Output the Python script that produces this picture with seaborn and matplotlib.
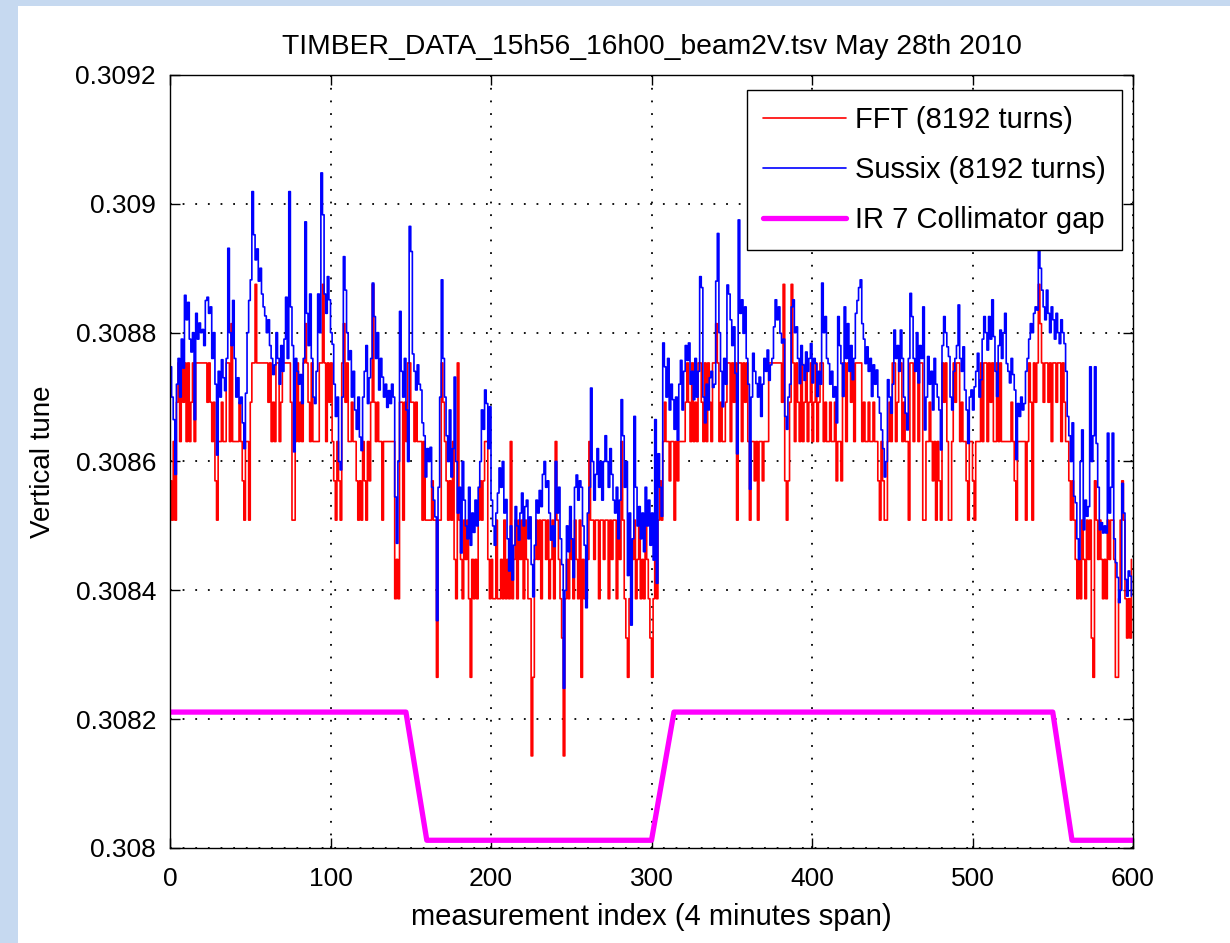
import numpy as np
import pandas as pd
import matplotlib
matplotlib.use("Agg")
import matplotlib.pyplot as plt
import seaborn as sns
from matplotlib.patches import Rectangle
from matplotlib.lines import Line2D

# ---------------- data (tune offsets in units of 1e-6 above 0.308) ----------------
sussix_off = [
    747, 700, 665, 580, 720, 760, 700, 790, 745, 858, 820, 847, 790, 770, 800, 665, 830, 790, 815, 800,
    805, 780, 850, 855, 830, 840, 760, 800, 720, 610, 740, 700, 758, 730, 710, 760, 931, 800, 780, 850,
    760, 700, 730, 690, 700, 660, 620, 706, 800, 850, 882, 1019, 952, 913, 930, 880, 900, 860, 840, 826,
    800, 820, 780, 760, 735, 750, 800, 760, 720, 780, 740, 790, 855, 760, 1019, 840, 780, 615, 760, 740,
    720, 735, 690, 760, 972, 830, 780, 860, 760, 700, 690, 740, 860, 800, 1048, 983, 860, 830, 887, 851,
    800, 782, 720, 670, 700, 600, 587, 700, 918, 866, 800, 758, 772, 700, 740, 680, 650, 700, 638, 617,
    700, 740, 780, 690, 730, 760, 877, 825, 760, 800, 711, 760, 731, 700, 720, 684, 710, 690, 720, 700,
    545, 473, 600, 833, 740, 700, 760, 680, 600, 965, 926, 767, 740, 711, 750, 720, 711, 660, 640, 576,
    620, 600, 622, 560, 540, 514, 353, 560, 700, 882, 760, 700, 640, 600, 680, 576, 620, 731, 600, 520,
    560, 458, 600, 540, 500, 480, 560, 470, 520, 490, 540, 500, 560, 600, 680, 650, 711, 690, 620, 685,
    540, 500, 470, 520, 551, 590, 560, 600, 520, 541, 480, 430, 500, 416, 470, 530, 500, 478, 520, 551,
    500, 530, 540, 480, 514, 440, 390, 470, 540, 520, 555, 530, 580, 600, 560, 570, 520, 478, 500, 468,
    600, 520, 560, 480, 440, 248, 400, 500, 460, 530, 480, 420, 560, 579, 540, 570, 560, 500, 470, 373,
    520, 560, 714, 600, 540, 580, 620, 560, 600, 540, 600, 640, 600, 560, 620, 580, 540, 520, 560, 480,
    540, 696, 640, 560, 600, 423, 520, 346, 480, 670, 560, 500, 530, 480, 520, 460, 560, 500, 540, 470,
    520, 447, 665, 411, 612, 560, 515, 784, 747, 700, 760, 680, 720, 696, 650, 700, 633, 720, 757, 680,
    740, 780, 757, 784, 720, 740, 696, 760, 700, 740, 887, 870, 700, 660, 720, 680, 730, 740, 715, 720,
    880, 954, 800, 740, 685, 760, 720, 874, 860, 820, 780, 809, 737, 612, 975, 830, 851, 799, 840, 760,
    720, 557, 700, 768, 740, 721, 700, 731, 670, 720, 760, 740, 773, 726, 750, 760, 809, 851, 820, 840,
    799, 784, 790, 670, 650, 700, 720, 840, 851, 800, 809, 760, 721, 780, 750, 726, 770, 740, 760, 783,
    722, 760, 752, 701, 740, 720, 877, 800, 825, 760, 752, 720, 740, 700, 716, 660, 825, 780, 752, 701,
    840, 760, 814, 740, 780, 727, 760, 830, 850, 870, 882, 814, 790, 752, 778, 740, 760, 701, 750, 720,
    742, 700, 675, 649, 620, 576, 600, 727, 700, 675, 720, 804, 760, 780, 740, 804, 760, 700, 675, 649,
    760, 861, 825, 760, 740, 800, 722, 780, 760, 840, 649, 700, 763, 720, 740, 680, 760, 720, 700, 680,
    618, 780, 825, 800, 778, 763, 700, 680, 740, 760, 780, 843, 760, 740, 778, 711, 680, 628, 700, 711,
    680, 716, 740, 768, 700, 727, 790, 825, 800, 773, 825, 790, 851, 794, 740, 701, 780, 804, 760, 800,
    830, 752, 740, 722, 760, 735, 711, 603, 690, 670, 700, 680, 690, 740, 760, 790, 814, 800, 830, 840,
    835, 939, 900, 866, 840, 820, 866, 830, 800, 840, 820, 790, 830, 800, 783, 820, 800, 783, 740, 670,
    640, 600, 660, 546, 536, 480, 448, 600, 649, 494, 540, 515, 530, 747, 600, 640, 747, 628, 560, 494,
    505, 489, 500, 489, 644, 520, 560, 644, 480, 443, 420, 381, 400, 566, 520, 417, 391, 430, 422, 391,
]

fft_off = [
    570, 509, 631, 509, 692, 753, 631, 753, 692, 753, 631, 753, 631, 692, 753, 631, 753, 753, 753, 753,
    753, 753, 753, 692, 753, 692, 631, 692, 570, 509, 631, 631, 692, 631, 631, 753, 753, 631, 814, 631,
    631, 631, 631, 692, 631, 570, 509, 631, 631, 509, 692, 753, 753, 875, 753, 753, 753, 753, 753, 753,
    753, 692, 753, 631, 692, 631, 753, 753, 631, 692, 753, 753, 753, 753, 753, 692, 509, 509, 631, 753,
    631, 692, 631, 753, 814, 753, 692, 631, 753, 631, 631, 631, 631, 753, 753, 875, 753, 631, 753, 692,
    753, 631, 570, 509, 631, 570, 509, 753, 814, 692, 753, 631, 631, 692, 631, 631, 570, 509, 570, 509,
    631, 570, 509, 631, 570, 692, 875, 692, 631, 692, 631, 631, 509, 631, 631, 631, 631, 631, 631, 631,
    387, 448, 387, 692, 692, 509, 692, 631, 753, 753, 692, 692, 631, 692, 631, 631, 631, 509, 631, 509,
    509, 509, 509, 570, 509, 509, 265, 509, 509, 753, 692, 631, 570, 509, 570, 509, 631, 448, 387, 753,
    509, 448, 387, 509, 448, 509, 387, 265, 448, 387, 448, 387, 509, 570, 509, 570, 631, 631, 448, 387,
    448, 387, 387, 509, 387, 387, 448, 387, 509, 387, 448, 387, 631, 387, 448, 509, 387, 509, 448, 509,
    387, 509, 448, 387, 387, 143, 265, 448, 509, 448, 509, 387, 509, 509, 448, 509, 387, 448, 509, 387,
    631, 509, 448, 387, 326, 143, 387, 448, 387, 509, 448, 387, 509, 448, 387, 509, 265, 448, 387, 387,
    448, 631, 509, 509, 448, 509, 509, 387, 509, 509, 448, 509, 509, 387, 509, 448, 509, 509, 387, 509,
    448, 631, 509, 387, 326, 265, 387, 387, 448, 509, 387, 448, 509, 387, 448, 387, 509, 448, 387, 326,
    265, 387, 448, 387, 509, 570, 509, 631, 692, 631, 631, 570, 631, 631, 509, 631, 570, 631, 631, 631,
    631, 692, 753, 692, 631, 753, 631, 692, 631, 753, 753, 692, 631, 753, 631, 753, 692, 631, 753, 753,
    814, 753, 631, 692, 631, 631, 692, 753, 753, 631, 753, 692, 753, 509, 753, 753, 631, 753, 692, 753,
    631, 509, 631, 631, 570, 631, 509, 631, 631, 570, 631, 631, 631, 753, 753, 753, 753, 753, 753, 753,
    753, 692, 875, 570, 509, 570, 692, 875, 753, 631, 753, 692, 631, 753, 631, 692, 753, 631, 692, 753,
    631, 692, 753, 631, 692, 753, 753, 631, 692, 631, 631, 692, 631, 631, 692, 570, 631, 631, 570, 753,
    753, 631, 753, 753, 692, 753, 631, 753, 753, 753, 753, 631, 692, 631, 631, 692, 631, 631, 692, 631,
    631, 570, 509, 631, 570, 509, 509, 631, 692, 631, 753, 753, 631, 692, 753, 753, 631, 692, 631, 631,
    509, 753, 753, 631, 753, 753, 631, 753, 753, 509, 509, 631, 631, 692, 631, 570, 631, 509, 631, 570,
    509, 753, 692, 753, 631, 509, 509, 631, 753, 692, 753, 753, 631, 692, 631, 631, 570, 509, 631, 631,
    570, 509, 631, 631, 631, 753, 631, 753, 753, 631, 753, 692, 753, 631, 631, 753, 631, 753, 631, 631,
    631, 631, 631, 631, 692, 631, 570, 509, 631, 631, 631, 631, 631, 509, 631, 753, 692, 509, 753, 692,
    753, 875, 814, 753, 692, 753, 753, 692, 753, 631, 753, 753, 692, 753, 753, 631, 753, 692, 631, 631,
    570, 509, 570, 509, 448, 387, 448, 387, 509, 448, 387, 509, 448, 509, 326, 265, 570, 509, 448, 509,
    448, 387, 448, 387, 509, 448, 509, 509, 448, 265, 265, 387, 509, 570, 509, 387, 326, 387, 326, 448,
]

gap_idx = [0, 147, 160, 300, 314, 550, 562, 600]
gap_off = [211, 211, 12, 12, 211, 211, 12, 12]

labels = ["FFT (8192 turns)", "Sussix (8192 turns)", "IR 7 Collimator gap"]
yticks = [0.308, 0.3082, 0.3084, 0.3086, 0.3088, 0.309, 0.3092]
yticklabels = ["0.308", "0.3082", "0.3084", "0.3086", "0.3088", "0.309", "0.3092"]
xticks = [0, 100, 200, 300, 400, 500, 600]

n = len(fft_off)
idx = np.arange(n)
df = pd.DataFrame({
    "index": np.concatenate([idx, idx]),
    "tune": 0.308 + np.array(fft_off + sussix_off) * 1e-6,
    "series": [labels[0]] * n + [labels[1]] * n,
})
gap = pd.DataFrame({"index": gap_idx, "tune": 0.308 + np.array(gap_off) * 1e-6})

# ---------------- style ----------------
sns.set_theme(style="white")
plt.rcParams["font.family"] = ["Liberation Sans", "DejaVu Sans"]
plt.rcParams["text.color"] = "black"
plt.rcParams["axes.labelcolor"] = "black"

fig = plt.figure(figsize=(12.30, 9.43), dpi=100)
fig.patch.set_facecolor("#c6d9f0")
fig.patches.append(Rectangle((18 / 1230, 0), 1 - 18 / 1230, 1 - 6 / 943,
                             transform=fig.transFigure, facecolor="white",
                             edgecolor="none", zorder=-10))
ax = fig.add_axes([170 / 1230, 1 - 848 / 943, 963 / 1230, 773 / 943])
ax.set_zorder(5)
ax.set_facecolor("white")

sns.lineplot(data=df, x="index", y="tune", hue="series", palette=["#ff0000", "#0000ff"],
             estimator=None, drawstyle="steps-post", linewidth=1.2, ax=ax, legend=False)
sns.lineplot(data=gap, x="index", y="tune", color="#ff00ff", linewidth=3.8,
             estimator=None, ax=ax, legend=False)

ax.set_xlim(0, 600)
ax.set_ylim(0.308, 0.3092)
ax.set_xticks(xticks)
ax.set_xticklabels([str(t) for t in xticks])
ax.set_yticks(yticks)
ax.set_yticklabels(yticklabels)
ax.grid(True, color="black", linestyle=(0, (1, 6)), linewidth=1.3)
for s in ax.spines.values():
    s.set_color("black")
    s.set_linewidth(1.0)
    s.set_visible(True)
ax.tick_params(direction="in", length=7, width=1, colors="black", labelsize=19,
               top=True, right=True, bottom=True, left=True)
ax.tick_params(axis="x", pad=14)
ax.tick_params(axis="y", pad=10)

ax.set_xlabel("measurement index (4 minutes span)", fontsize=21, labelpad=8)
ax.set_ylabel("Vertical tune", fontsize=20, labelpad=14)
ax.set_title("TIMBER_DATA_15h56_16h00_beam2V.tsv May 28th 2010", fontsize=20.3, pad=15)

handles = [Line2D([], [], color="#ff0000", lw=1.2),
           Line2D([], [], color="#0000ff", lw=1.2),
           Line2D([], [], color="#ff00ff", lw=3.8)]
leg = ax.legend(handles, labels, loc="upper right", bbox_to_anchor=(0.9886, 0.9806),
                fontsize=21, frameon=True, fancybox=False, framealpha=1,
                edgecolor="black", handlelength=2.85, borderpad=0.55, labelspacing=0.75,
                handletextpad=0.3, borderaxespad=0)
leg.get_frame().set_linewidth(1.0)

fig.savefig("out.png", dpi=100)
